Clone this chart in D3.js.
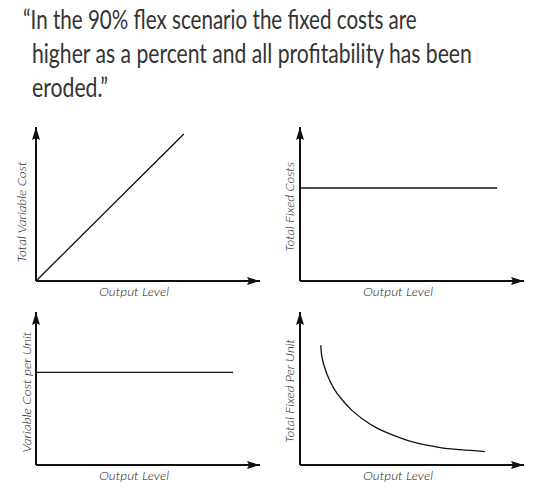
<!DOCTYPE html>
<html>
<head>
<meta charset="utf-8">
<script src="https://cdn.jsdelivr.net/npm/d3@7"></script>
<style>
  body { margin: 0; background: #fff; }
  .quote { font-family: Lato, 'Open Sans', sans-serif; font-size: 27px; font-weight: 400; fill: #333; }
  .atitle { font-family: Lato, 'Open Sans', sans-serif; font-size: 11px; font-style: italic; font-weight: 300; fill: #222; }
</style>
</head>
<body>
<div id="chart"></div>
<script>
// quote text
const quoteLines = [
  '\u201CIn the 90% flex scenario the fixed costs are',
  'higher as a percent and all profitability has been',
  'eroded.\u201D',
];
// axis titles
const yTitles = ['Total Variable Cost', 'Total Fixed Costs', 'Variable Cost per Unit', 'Total Fixed Per Unit'];
const xTitle = 'Output Level';

// series as [output, cost], both on a 0-100 axis scale
const totalVariable = [[0, 0], [66, 95.5]];
const totalFixed = [[0, 60.4], [88, 60.4]];
const variablePerUnit = [[0, 60.5], [88, 60.5]];
const fixedPerUnit = [
  [9.3, 78.3], [9.7, 71.3], [10.8, 64.7], [12.7, 57.0], [15.2, 49.8], [18.7, 42.8],
  [23.2, 35.7], [28.4, 29.6], [34.4, 24.1], [40.4, 20.2], [50.7, 14.9], [62.6, 11.4],
  [71.7, 10.0], [82.5, 8.8],
];
const seriesList = [totalVariable, totalFixed, variablePerUnit, fixedPerUnit];

const width = 546;
const height = 496;

// panel boxes: origin, arrow tips, and where the titles sit
const panels = [
  { ox: 36, tipX: 260, oy: 281, tipY: 127, yLabX: 26, yLabY: 212, yLen: 101, xLabX: 134, xLabY: 296 },
  { ox: 300, tipX: 524, oy: 281, tipY: 127, yLabX: 294, yLabY: 207, yLen: 90, xLabX: 398, xLabY: 296 },
  { ox: 36, tipX: 260, oy: 465, tipY: 312, yLabX: 31, yLabY: 392, yLen: 121, xLabX: 134, xLabY: 480 },
  { ox: 300, tipX: 524, oy: 465, tipY: 312, yLabX: 294, yLabY: 391, yLen: 104, xLabX: 398, xLabY: 480 },
];

const svg = d3
  .select('#chart')
  .append('svg')
  .attr('width', width)
  .attr('height', height);

// arrowhead
svg
  .append('defs')
  .append('marker')
  .attr('id', 'arrow')
  .attr('markerUnits', 'userSpaceOnUse')
  .attr('viewBox', '0 0 13 8')
  .attr('refX', 13)
  .attr('refY', 4)
  .attr('markerWidth', 13)
  .attr('markerHeight', 8)
  .attr('orient', 'auto')
  .append('path')
  .attr('d', 'M0,0L13,4L0,8L2,4Z')
  .attr('fill', '#111');

// quote, squeezed horizontally to the condensed look of the original
const quoteX = [23, 32, 32];
const quoteY = [29, 63, 97];
const quoteLen = [394, 440, 76];
svg
  .append('g')
  .selectAll('text')
  .data(quoteLines)
  .enter()
  .append('text')
  .attr('class', 'quote')
  .text((d) => d)
  .attr('transform', function (d, i) {
    const natural = this.getComputedTextLength();
    return `translate(${quoteX[i]},${quoteY[i]}) scale(${quoteLen[i] / natural},1)`;
  });

// panels
panels.forEach((p, i) => {
  const x = d3.scaleLinear().domain([0, 100]).range([p.ox, p.tipX]);
  const y = d3.scaleLinear().domain([0, 100]).range([p.oy, p.tipY]);
  const g = svg.append('g').attr('class', 'panel');

  // axes with arrows
  g.append('line')
    .attr('x1', x(0)).attr('y1', y(0))
    .attr('x2', x(0)).attr('y2', y(100))
    .attr('stroke', '#111').attr('stroke-width', 2)
    .attr('marker-end', 'url(#arrow)');
  g.append('line')
    .attr('x1', x(0)).attr('y1', y(0))
    .attr('x2', x(100)).attr('y2', y(0))
    .attr('stroke', '#111').attr('stroke-width', 2)
    .attr('marker-end', 'url(#arrow)');

  // series line
  const line = d3
    .line()
    .x((d) => x(d[0]))
    .y((d) => y(d[1]))
    .curve(d3.curveCatmullRom.alpha(0.5));
  g.append('path')
    .datum(seriesList[i])
    .attr('d', line)
    .attr('fill', 'none')
    .attr('stroke', '#111')
    .attr('stroke-width', 1.3);

  // titles
  g.append('text')
    .attr('class', 'atitle')
    .attr('text-anchor', 'middle')
    .attr('x', p.xLabX)
    .attr('y', p.xLabY)
    .attr('textLength', 70)
    .attr('lengthAdjust', 'spacingAndGlyphs')
    .text(xTitle);
  g.append('text')
    .attr('class', 'atitle')
    .attr('text-anchor', 'middle')
    .attr('transform', `translate(${p.yLabX},${p.yLabY}) rotate(-90)`)
    .attr('textLength', p.yLen)
    .attr('lengthAdjust', 'spacingAndGlyphs')
    .text(yTitles[i]);
});
</script>
</body>
</html>
